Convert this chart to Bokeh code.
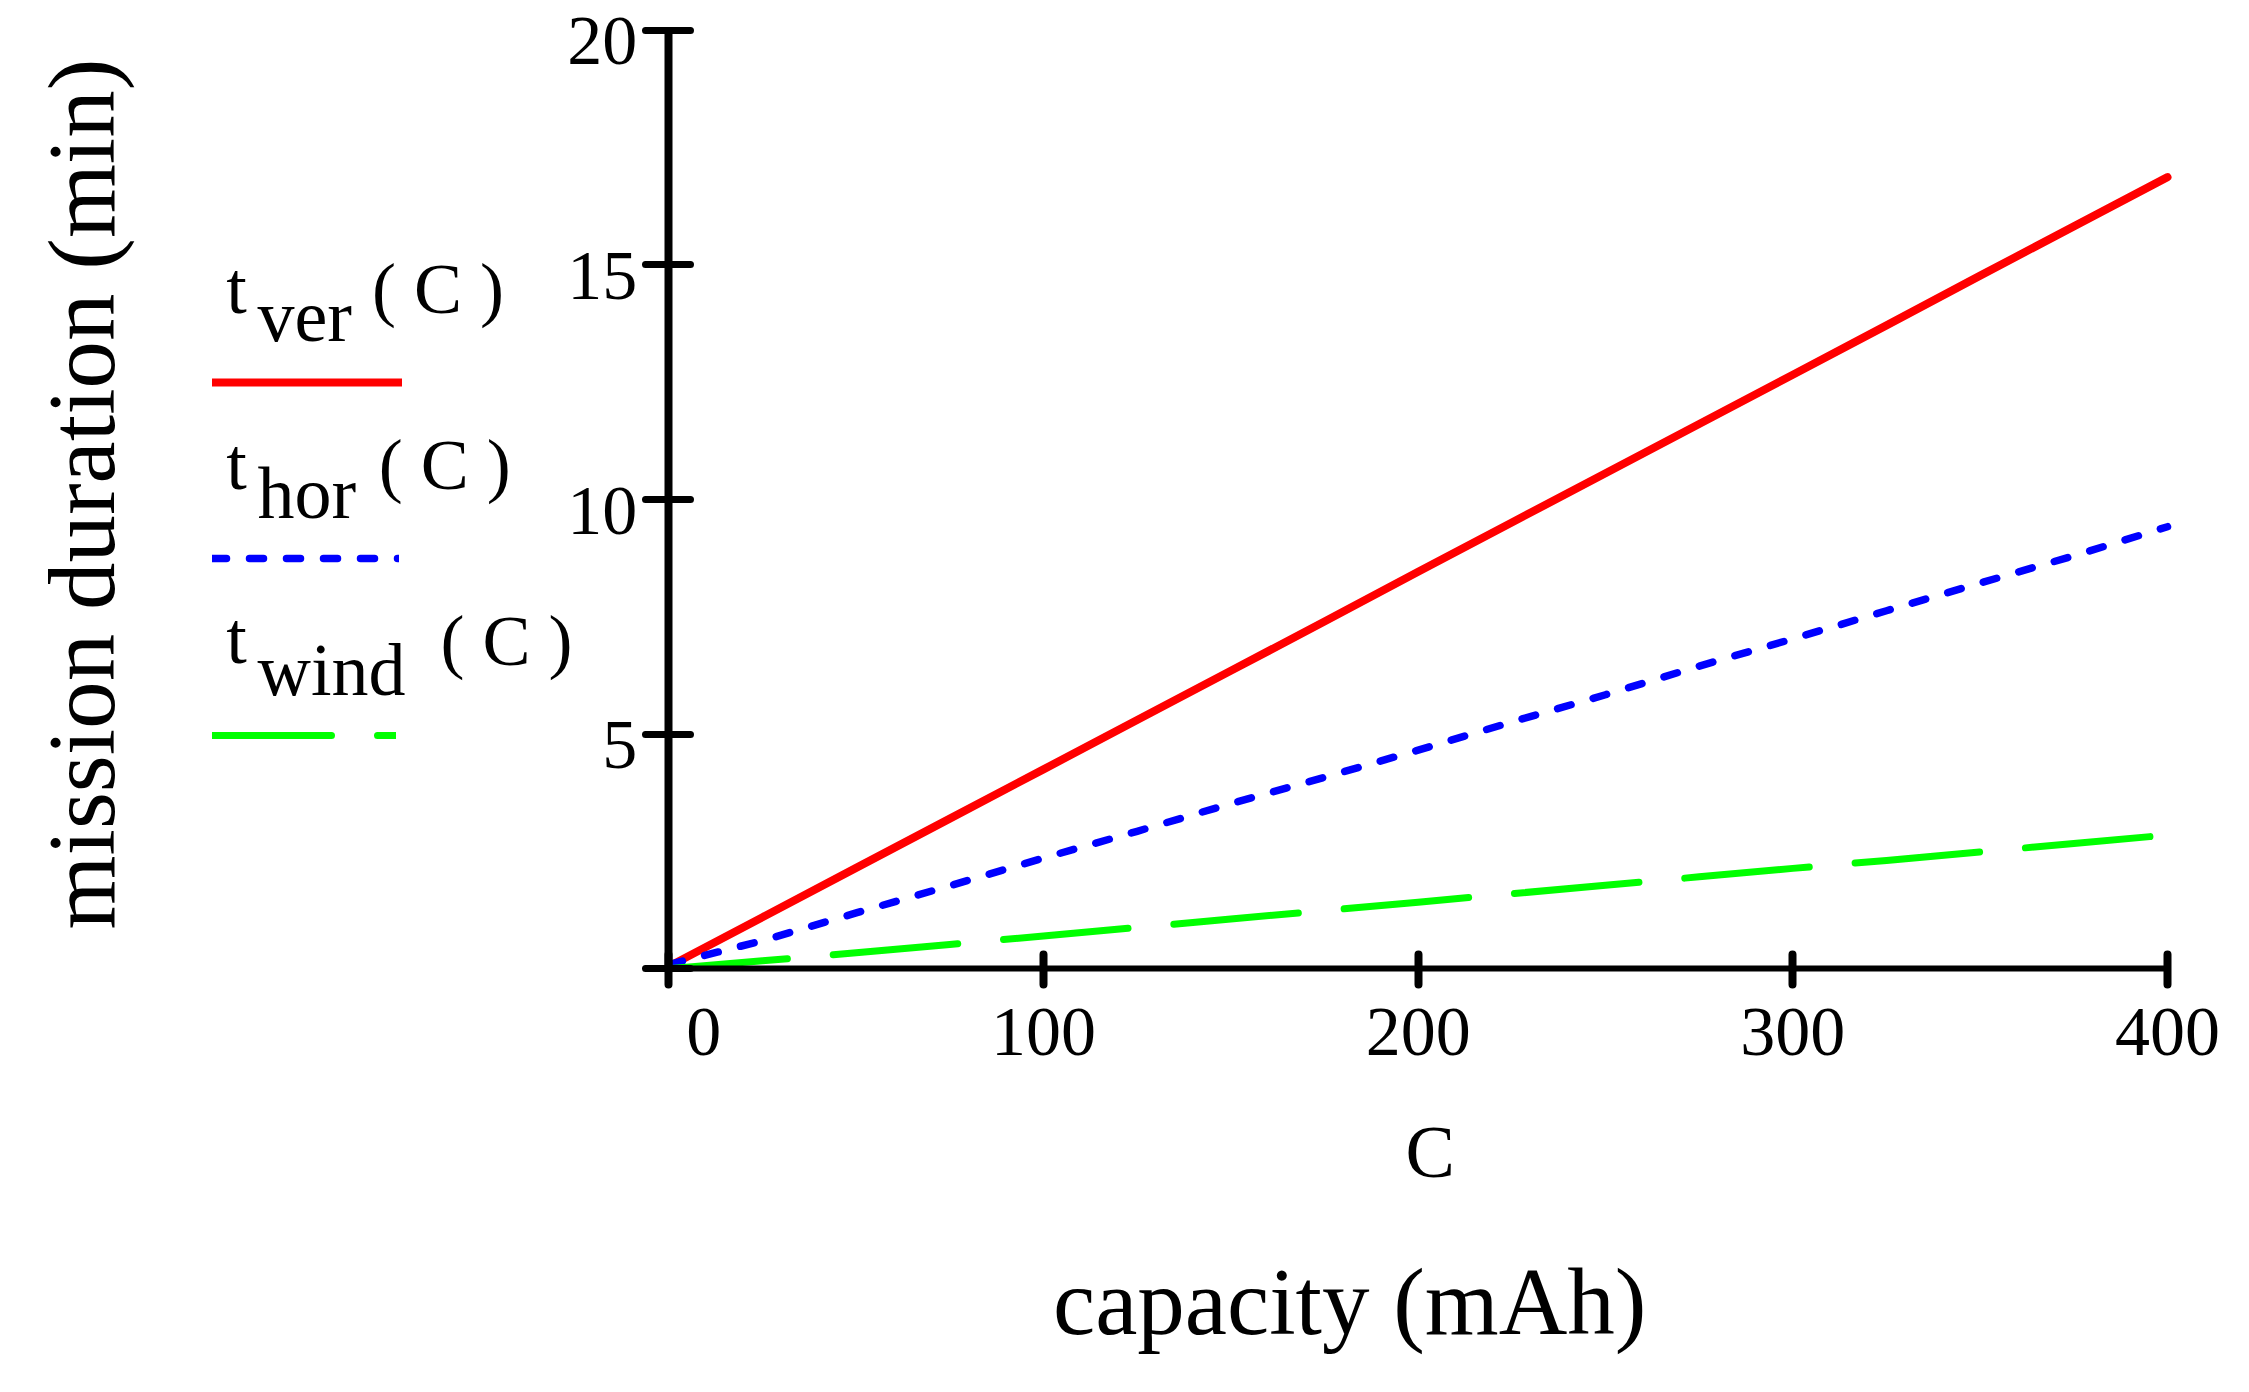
from math import pi
from bokeh.plotting import figure
from bokeh.models import Label, Legend, LegendItem, FixedTicker, Range1d
from bokeh.core.properties import value
from bokeh.embed import file_html
from bokeh.resources import INLINE

# ---- data ----
capacity = [0, 25, 50, 75, 100, 125, 150, 175, 200, 225, 250, 275, 300, 325, 350, 375, 400]
t_ver = [0.05, 1.10, 2.15, 3.20, 4.25, 5.30, 6.35, 7.40, 8.46, 9.51, 10.56, 11.61, 12.66, 13.71, 14.77, 15.82, 16.87]
t_hor = [0.09, 0.60, 1.19, 1.77, 2.36, 2.93, 3.52, 4.08, 4.66, 5.26, 5.84, 6.45, 7.03, 7.63, 8.22, 8.80, 9.42]
t_wind = [0.0, 0.17, 0.34, 0.52, 0.70, 0.88, 1.06, 1.24, 1.42, 1.60, 1.78, 1.96, 2.14, 2.31, 2.49, 2.67, 2.85]

x_ticks = [0, 100, 200, 300, 400]
y_ticks = [0, 5, 10, 15, 20]
x_tick_labels = {0: "\u00a0\u00a0\u00a0\u00a00", 100: "100", 200: "200", 300: "300", 400: "400"}
y_label_ticks = [5, 10, 15, 20]
y_label_texts = ["5", "10", "15", "20"]

x_title = "C"
x_caption = "capacity (mAh)"
y_title = "mission duration (min)"
legend_names = [("t", "ver"), ("t", "hor"), ("t", "wind")]
legend_args = "( C )"

# ---- layout (pixels of the page) ----
W, H = 2249, 1392
PX_X0, PX_X400 = 668.3, 2167.0     # where C = 0 and C = 400 fall
PX_Y0, PX_Y20 = 968.3, 29.7        # where t = 0 and t = 20 fall
X_LO, X_HI = 0.0, 400.0
Y_LO, Y_HI = 0.0, 20.0
sx = (PX_X400 - PX_X0) / (X_HI - X_LO)
sy = (PX_Y0 - PX_Y20) / (Y_HI - Y_LO)
FONT = "Liberation Serif"
CENTER_SHIFT = 0.3375   # label box centre sits this many em above the baseline

p = figure(width=W, height=H,
           x_range=Range1d(X_LO - PX_X0 / sx, X_LO + (W - PX_X0) / sx),
           y_range=Range1d(Y_LO - (H - PX_Y0) / sy, Y_LO + PX_Y0 / sy),
           output_backend="svg", toolbar_location=None,
           min_border_left=0, min_border_right=0, min_border_top=0, min_border_bottom=0)
p.grid.visible = False
p.outline_line_color = None
p.background_fill_color = "white"
p.border_fill_color = "white"

# axes crossing at the origin
p.xaxis.fixed_location = 0
p.yaxis.fixed_location = 0
p.xaxis.bounds = (X_LO, X_HI)
p.yaxis.bounds = (Y_LO, Y_HI)
p.xaxis.ticker = FixedTicker(ticks=x_ticks)
p.yaxis.ticker = FixedTicker(ticks=y_ticks)
p.xaxis.major_label_overrides = x_tick_labels
p.yaxis.major_label_overrides = {t: "" for t in y_ticks}
for ax in (p.xaxis, p.yaxis):
    ax.axis_line_color = "black"
    ax.major_tick_line_color = "black"
    ax.major_tick_line_cap = "round"
    ax.minor_tick_line_color = None
    ax.major_label_text_font = FONT
    ax.major_label_text_font_size = "70px"
    ax.major_label_text_color = "black"
p.xaxis.major_label_standoff = 8
p.xaxis.axis_line_width = 6
p.yaxis.axis_line_width = 8
p.xaxis.major_tick_line_width = 8
p.yaxis.major_tick_line_width = 7
p.xaxis.major_tick_in = 14
p.xaxis.major_tick_out = 16
p.yaxis.major_tick_in = 22
p.yaxis.major_tick_out = 23

# y tick labels (placed at the tick values, slightly below the tick like the original)
p.text(x=[0] * len(y_label_ticks), y=y_label_ticks, text=y_label_texts,
       x_offset=-31.6, y_offset=11, text_align="right", text_baseline="middle",
       text_font=value(FONT), text_font_size="70px", text_color="black")

# data lines
r_ver = p.line(capacity, t_ver, line_color="#FF0000", line_width=8,
               line_cap="round", line_join="round")
r_hor = p.line(capacity, t_hor, line_color="#0000FF", line_width=7.5,
               line_dash="14 23", line_cap="round", line_join="round")
r_wind = p.line(capacity, t_wind, line_color="#00FF00", line_width=7,
                line_dash="125 46", line_dash_offset=6, line_cap="round", line_join="round")


def add_sample(renderer, x0, yc, width):
    leg = Legend(items=[LegendItem(label=" ", renderers=[renderer])],
                 location=(x0, H - yc - 10),
                 glyph_width=width, glyph_height=20, label_height=20, label_width=0,
                 label_standoff=0, padding=0, margin=0, spacing=0,
                 border_line_alpha=0, background_fill_alpha=0,
                 label_text_font_size="1px", label_text_alpha=0)
    p.add_layout(leg)


add_sample(r_ver, 212, 382, 190)
add_sample(r_hor, 212, 558, 187)
add_sample(r_wind, 212, 735, 184)


def dx(px):
    return X_LO + (px - PX_X0) / sx


def dy(py):
    return Y_LO + (PX_Y0 - py) / sy


def add_text(txt, px, py, size=74, align="left", angle=0.0):
    # px, py: wanted baseline point of the text in page pixels
    shift = CENTER_SHIFT * size
    if angle == 0.0:
        py = py - shift
    else:
        px = px - shift
    p.add_layout(Label(x=dx(px), y=dy(py), text=txt, text_font=FONT, text_font_size=f"{size}px",
                       text_color="black", text_align=align, text_baseline="alphabetic",
                       angle=angle))


# legend texts
leg_rows = [(312.2, 340.9, 371.6, 312.8), (488.6, 517.4, 378.3, 488.6), (662.7, 694.8, 439.9, 664.4)]
for (main, sub), (yb, ysb, xa, ya) in zip(legend_names, leg_rows):
    add_text(main, 225.7, yb)
    add_text(sub, 257.0, ysb)
    add_text(legend_args, xa, ya, size=72)

# axis titles
add_text(x_title, 1429.8, 1176.7, size=74, align="center")
add_text(x_caption, 1349.2, 1333.3, size=95, align="center")
add_text(y_title, 113.3, 493.5, size=95, align="center", angle=pi / 2)

open("out.html", "w").write(file_html(p, INLINE))
